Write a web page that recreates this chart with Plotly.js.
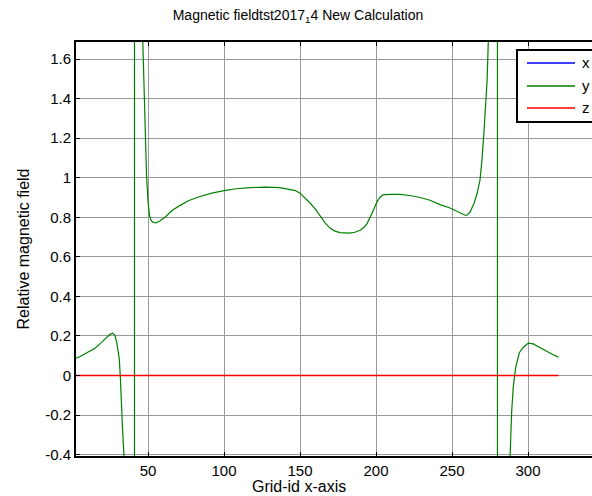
<!DOCTYPE html>
<html>
<head>
<meta charset="utf-8">
<script src="https://cdn.plot.ly/plotly-3.0.1.min.js"></script>
<style>html,body{margin:0;padding:0;overflow:hidden;background:#fff}#chart{width:592px;height:496px}</style>
</head>
<body>
<div id="chart"></div>
<script>
// Series names
const seriesNames = ["x", "y", "z"];
const seriesColors = ["#0000ff", "#008000", "#ff0000"];

// x component (hidden under z at zero)
const gridX_x = [1, 320];
const fieldX = [0, 0];

// y component
const gridX_y = [1, 3, 5.3, 8.6, 11.8, 15.1, 18.4, 21.7, 25, 26.8, 28.3, 29.6, 31.1, 31.8, 32.4, 33.4, 34.2,
  35, 36, 37, 38, 39, 40, 41.1, 41.1, 42, 43, 44, 45, 46, 47, 48, 49, 50, 51, 52, 53, 55.3,
  58, 61.2, 66, 71.1, 77, 84.2, 92, 100, 108, 117.1, 127, 136.8, 143.4, 147, 150, 153, 156.6, 160, 163.2,
  166.5, 169.7, 173, 176.3, 182.9, 186, 189.5, 192, 194.1, 197.4, 200.7, 202.5, 204.6, 209.2, 215.8, 222.4, 229, 235.5,
  242.1, 248.7, 255.3, 258.6, 259.9, 261.9, 264.5, 266.5, 268.4, 269.7, 271.1, 272.4, 273.1,
  274, 275, 276, 277, 278, 279, 279.9, 279.9, 281, 282, 283, 284, 285, 286, 287, 288, 288.2,
  289.3, 290.3, 291.9, 294.3, 296.9, 300.2, 303.5, 307.9, 312.3, 316.6, 320];
const fieldY = [0.083, 0.089, 0.096, 0.110, 0.123, 0.138, 0.160, 0.186, 0.208, 0.214, 0.203, 0.160, 0.084, -0.008, -0.160, -0.295, -0.405,
  -0.9, -2, -4, -8, -15, -30, -60, 60, 15, 8, 5, 3, 1.85, 1.53, 1.24, 1.02, 0.88, 0.81, 0.785, 0.775, 0.771,
  0.782, 0.80, 0.835, 0.86, 0.885, 0.905, 0.922, 0.935, 0.944, 0.950, 0.952, 0.950, 0.942, 0.935, 0.922, 0.900, 0.872, 0.842, 0.808,
  0.772, 0.745, 0.730, 0.722, 0.720, 0.724, 0.734, 0.748, 0.768, 0.820, 0.878, 0.900, 0.913, 0.916, 0.916, 0.910, 0.900, 0.886,
  0.864, 0.847, 0.822, 0.810, 0.810, 0.827, 0.871, 0.920, 0.987, 1.089, 1.24, 1.41, 1.494,
  1.72, 2.2, 3, 5, 10, 20, 60, -60, -20, -10, -6, -4, -2.6, -1.6, -1.0, -0.55, -0.41,
  -0.177, -0.059, 0.042, 0.115, 0.143, 0.164, 0.160, 0.143, 0.123, 0.105, 0.093];

// z component
const gridX_z = [1, 320];
const fieldZ = [0, 0];

// Ticks
const xTickVals = [50, 100, 150, 200, 250, 300];
const xTickText = ["50", "100", "150", "200", "250", "300"];
const yTickVals = [-0.4, -0.2, 0, 0.2, 0.4, 0.6, 0.8, 1, 1.2, 1.4, 1.6];
const yTickText = ["-0.4", "-0.2", "0", "0.2", "0.4", "0.6", "0.8", "1", "1.2", "1.4", "1.6"];

const W = 592, H = 496;
const mL = 76, mR = 0, mT = 42, mB = 40;
const px2paperX = p => (p - mL) / (W - mL - mR);
const px2paperY = p => (H - mB - p) / (H - mT - mB);

const font = "Liberation Sans, Arial, Helvetica, sans-serif";

const traces = [
  {x: gridX_x, y: fieldX, name: seriesNames[0], mode: "lines", line: {color: seriesColors[0], width: 1}},
  {x: gridX_y, y: fieldY, name: seriesNames[1], mode: "lines", line: {color: seriesColors[1], width: 1.2}},
  {x: gridX_z, y: fieldZ, name: seriesNames[2], mode: "lines", line: {color: seriesColors[2], width: 1.3}}
];

// Legend drawn as shapes + annotations (MATLAB style box)
const shapes = [];
const annotations = [];
shapes.push({type: "rect", xref: "paper", yref: "paper",
  x0: px2paperX(517), x1: px2paperX(600), y0: px2paperY(122), y1: px2paperY(50),
  line: {color: "#000", width: 2}, fillcolor: "#fff", layer: "above"});
const legY = [63, 86, 108];
for (let i = 0; i < seriesNames.length; i++) {
  shapes.push({type: "line", xref: "paper", yref: "paper",
    x0: px2paperX(527), x1: px2paperX(575), y0: px2paperY(legY[i]), y1: px2paperY(legY[i]),
    line: {color: seriesColors[i], width: 1.3}, layer: "above"});
  annotations.push({xref: "paper", yref: "paper", x: px2paperX(580), y: px2paperY(legY[i] - 0.5),
    xanchor: "left", yanchor: "middle", text: seriesNames[i], showarrow: false,
    font: {family: font, size: 15, color: "#000"}});
}
// x-axis title (centered as in reference)
annotations.push({xref: "paper", yref: "paper", x: px2paperX(299), y: px2paperY(487),
  xanchor: "center", yanchor: "middle", text: "Grid-id x-axis", showarrow: false,
  font: {family: font, size: 16, color: "#000"}});

const layout = {
  width: W, height: H,
  margin: {l: mL, r: mR, t: mT, b: mB, pad: 0},
  paper_bgcolor: "#fff", plot_bgcolor: "#fff",
  showlegend: false,
  font: {family: font, size: 13, color: "#000"},
  title: {text: "Magnetic fieldtst2017<sub>1</sub>4 New Calculation",
    xref: "container", yref: "container", x: 298 / W, y: 1 - 15 / H,
    xanchor: "center", yanchor: "middle", font: {family: font, size: 14, color: "#000"}},
  xaxis: {
    range: [2.63, 342.1], tickvals: xTickVals, ticktext: xTickText,
    showgrid: true, gridcolor: "#999999", gridwidth: 1, zeroline: false,
    showline: true, linecolor: "#000", linewidth: 2, mirror: "ticks",
    ticks: "inside", ticklen: 4, tickcolor: "#000", tickwidth: 1,
    tickfont: {family: font, size: 15, color: "#000"}
  },
  yaxis: {
    range: [-0.407, 1.686], tickvals: yTickVals, ticktext: yTickText,
    showgrid: true, gridcolor: "#999999", gridwidth: 1, zeroline: false,
    showline: true, linecolor: "#000", linewidth: 2, mirror: false,
    ticks: "inside", ticklen: 4, tickcolor: "#000", tickwidth: 1,
    tickfont: {family: font, size: 15, color: "#000"},
    title: {text: "Relative magnetic field", standoff: 12, font: {family: font, size: 16, color: "#000"}}
  },
  shapes: shapes,
  annotations: annotations
};

Plotly.newPlot("chart", traces, layout, {displayModeBar: false, staticPlot: true});
</script>
</body>
</html>
